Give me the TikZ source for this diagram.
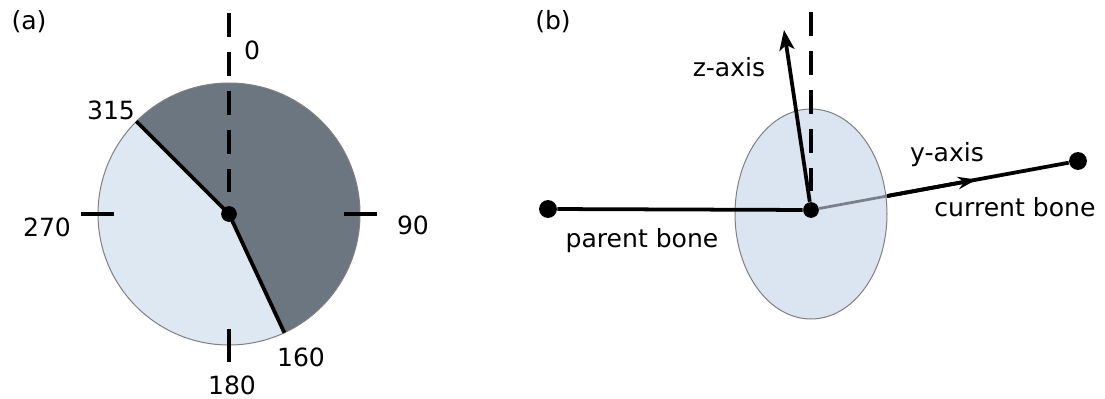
\documentclass[tikz,border=0pt]{standalone}
\usepackage{fontspec}
\setmainfont{DejaVu Sans}
\usetikzlibrary{calc, arrows.meta}
\definecolor{disqueclair}{RGB}{222,232,243}
\definecolor{disquefonce}{RGB}{108,118,128}
\definecolor{plan}{RGB}{218,229,241}
\definecolor{osgris}{RGB}{120,128,136}
\tikzstyle{every node}=[font=\fontsize{10}{12}\selectfont]
\tikzset{os/.style={line width=1.5pt},
	axe/.style={line width=1.3pt, dash pattern=on 9.5pt off 6pt},
	repere/.style={line width=1.3pt},
	point/.style={circle, fill=black, inner sep=0pt, minimum size=0.22cm}}

\begin{document}
\begin{tikzpicture}[x=0.014cm, y=0.014cm]
	\useasboundingbox (0,0) rectangle (1105,398);
	
	% (a) disque
	\coordinate (o) at (229,184);
	\path (o) ++(135:131) coordinate (a315);
	\path (o) ++(-65:131) coordinate (a160);
	\path (o) ++(90:201) coordinate (a0);
	
	\fill[disqueclair] (o) circle[radius=131];
	\fill[disquefonce] (o) -- (a315) arc[start angle=135, end angle=-65, radius=131] -- cycle;
	\draw[gray, line width=0.4pt] (o) circle[radius=131];
	
	\draw[axe] (a0) -- (o);
	\foreach \a in {0,-90,180}
		\draw[repere] (o) ++(\a:115) -- ++(\a:33);
	
	\draw[os] (o) -- (a315);
	\draw[os] (o) -- (a160);
	\node[point] (centre) at (o) {};
	
	\node (la) at (29,376) {(a)};
	\node (l0) at (252,348) {0};
	\node (l90) at (413,173) {90};
	\node (l180) at (232,13) {180};
	\node (l270) at (47,171) {270};
	\node (l315) at (111,288) {315};
	\node (l160) at (301,41) {160};
	
	% (b) os
	\coordinate (e) at (811,184);
	\coordinate (zt) at (784,368);
	\coordinate (b0) at (811,386);
	\filldraw[fill=plan, draw=gray, line width=0.4pt] (e) ellipse[x radius=76, y radius=105];
	
	\node[point] (j) at (811,188) {};
	\node[point, minimum size=0.25cm] (p) at (548,189) {};
	\node[point, minimum size=0.25cm] (q) at (1078,237) {};
	
	\draw[axe] (b0) -- (j);
	\draw[os] (p) -- (j);
	\draw[os, -{Stealth[length=8pt, width=6pt, inset=2pt]}] (j) -- (zt);
	
	\coordinate (ybord) at ($(j)!0.285!(q)$);
	\coordinate (yfl) at ($(j)!0.62!(q)$);
	\draw[osgris, line width=1.1pt] (j) -- (ybord);
	\draw[os] (ybord) -- (q);
	\draw[os, -{Stealth[length=7.5pt, width=5pt, inset=2.5pt]}] (ybord) -- (yfl);
	
	\node (lb) at (553,376) {(b)};
	\node (lz) at (729,331) {z-axis};
	\node (ly) at (947,243) {y-axis};
	\node (lcour) at (1015,191) {current bone};
	\node (lpar) at (642,157) {parent bone};
\end{tikzpicture}
\end{document}
